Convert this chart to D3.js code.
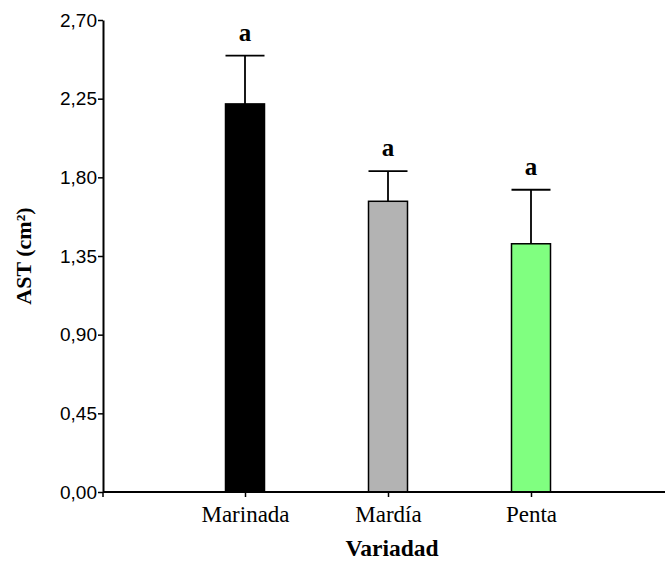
<!DOCTYPE html>
<html>
<head>
<meta charset="utf-8">
<script src="https://cdn.jsdelivr.net/npm/d3@7"></script>
<style>
  body { margin: 0; background: #fff; }
  svg { display: block; }
  .serif { font-family: "Liberation Serif", "Times New Roman", serif; }
  .sans { font-family: "Liberation Sans", Arial, sans-serif; }
</style>
</head>
<body>
<div id="chart"></div>
<script>
const categories = ["Marinada", "Mardía", "Penta"];
const means = [2.22, 1.663, 1.42];
const errors = [0.276, 0.172, 0.309];
const letters = ["a", "a", "a"];
const colors = ["#000000", "#b3b3b3", "#80ff80"];
const yTicks = [0, 0.45, 0.9, 1.35, 1.8, 2.25, 2.7];

const width = 665, height = 562;
const x0 = 103, y0 = 492, yTop = 20;
const barWidth = 39;

const svg = d3.select("#chart").append("svg")
  .attr("width", width)
  .attr("height", height);

const x = d3.scalePoint()
  .domain(categories)
  .range([245, 531]);

const y = d3.scaleLinear()
  .domain([0, 2.7])
  .range([y0, yTop]);

// bars
svg.append("g").selectAll("rect")
  .data(categories)
  .join("rect")
  .attr("x", d => x(d) - barWidth / 2)
  .attr("y", (d, i) => y(means[i]))
  .attr("width", barWidth)
  .attr("height", (d, i) => y0 - y(means[i]))
  .attr("fill", (d, i) => colors[i])
  .attr("stroke", "#000")
  .attr("stroke-width", 1.5);

// error bars
const err = svg.append("g").attr("stroke", "#000").attr("stroke-width", 1.8);
err.selectAll("line.v")
  .data(categories)
  .join("line")
  .attr("class", "v")
  .attr("x1", d => x(d)).attr("x2", d => x(d))
  .attr("y1", (d, i) => y(means[i]))
  .attr("y2", (d, i) => y(means[i] + errors[i]));
err.selectAll("line.cap")
  .data(categories)
  .join("line")
  .attr("class", "cap")
  .attr("x1", d => x(d) - barWidth / 2).attr("x2", d => x(d) + barWidth / 2)
  .attr("y1", (d, i) => y(means[i] + errors[i]))
  .attr("y2", (d, i) => y(means[i] + errors[i]));

// significance letters
svg.append("g").selectAll("text")
  .data(categories)
  .join("text")
  .attr("class", "serif")
  .attr("x", d => x(d))
  .attr("y", (d, i) => y(means[i] + errors[i]) - 15)
  .attr("text-anchor", "middle")
  .attr("font-size", 25)
  .attr("font-weight", "bold")
  .text((d, i) => letters[i]);

// y axis
const yAxis = d3.axisLeft(y)
  .tickValues(yTicks)
  .tickSize(5)
  .tickSizeOuter(0)
  .tickFormat(d => d3.format(".2f")(d).replace(".", ","));
const gy = svg.append("g")
  .attr("transform", `translate(${x0},0)`)
  .call(yAxis);
gy.select(".domain").attr("stroke-width", 2);
gy.selectAll(".tick line").attr("stroke-width", 1.5);
gy.selectAll(".tick text")
  .attr("class", "sans")
  .attr("font-size", 19)
  .attr("fill", "#000")
  .attr("x", -6);

// x axis
const xAxis = d3.axisBottom(x).tickSize(5).tickSizeOuter(0);
const gx = svg.append("g")
  .attr("transform", `translate(0,${y0})`)
  .call(xAxis);
gx.select(".domain").remove();
gx.append("line")
  .attr("x1", x0).attr("x2", width)
  .attr("stroke", "#000").attr("stroke-width", 2);
gx.append("line")
  .attr("x1", x0).attr("x2", x0).attr("y1", 0).attr("y2", 5)
  .attr("stroke", "#000").attr("stroke-width", 1.5);
gx.selectAll(".tick line").attr("stroke-width", 1.5);
gx.selectAll(".tick text")
  .attr("class", "serif")
  .attr("font-size", 23)
  .attr("fill", "#000")
  .attr("y", 14);

// axis titles
svg.append("text")
  .attr("class", "serif")
  .attr("x", 392).attr("y", 556)
  .attr("text-anchor", "middle")
  .attr("font-size", 23.5)
  .attr("font-weight", "bold")
  .text("Variadad");

svg.append("text")
  .attr("class", "serif")
  .attr("transform", "translate(31,256) rotate(-90)")
  .attr("text-anchor", "middle")
  .attr("font-size", 22)
  .attr("font-weight", "bold")
  .text("AST (cm²)");
</script>
</body>
</html>
